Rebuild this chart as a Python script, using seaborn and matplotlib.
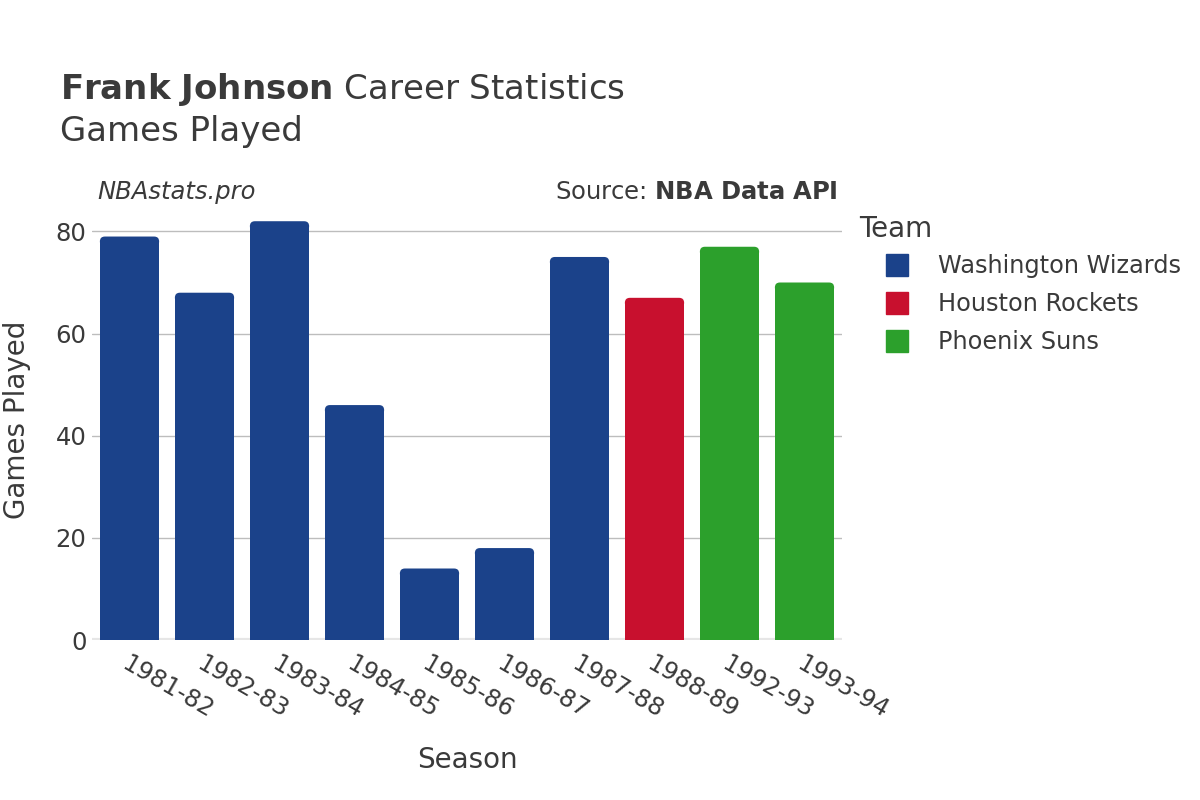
import matplotlib
matplotlib.use('Agg')
import matplotlib.pyplot as plt
import seaborn as sns
import pandas as pd
from matplotlib.patches import FancyBboxPatch, Rectangle
from matplotlib.lines import Line2D

seasons = ['1981-82', '1982-83', '1983-84', '1984-85', '1985-86',
           '1986-87', '1987-88', '1988-89', '1992-93', '1993-94']
games = [79, 68, 82, 46, 14, 18, 75, 67, 77, 70]
teams = ['Washington Wizards'] * 7 + ['Houston Rockets'] + ['Phoenix Suns'] * 2
team_order = ['Washington Wizards', 'Houston Rockets', 'Phoenix Suns']
team_colors = ['#1b428a', '#c8102e', '#2ca02c']
y_ticks = [0, 20, 40, 60, 80]

df = pd.DataFrame({'Season': seasons, 'Games': games, 'Team': teams})

sns.set_theme(style='white')
plt.rcParams['font.family'] = ['DejaVu Sans']
txt = '#3a3a3a'

fig = plt.figure(figsize=(12, 8), dpi=100)
ax = fig.add_axes([92 / 1200, 0.2, 750 / 1200, (640 - 211) / 800])

sns.barplot(data=df, x='Season', y='Games', hue='Team', hue_order=team_order,
            palette=team_colors, dodge=False, width=0.79, saturation=1,
            legend=False, ax=ax, zorder=3)

ax.set_ylim(0, 84)
ax.set_xlim(-0.5, len(seasons) - 0.5)
fig.canvas.draw()

# convert rectangular bars into bars with rounded top corners
bbox = ax.get_window_extent()
px_per_x = bbox.width / (ax.get_xlim()[1] - ax.get_xlim()[0])
px_per_y = bbox.height / (ax.get_ylim()[1] - ax.get_ylim()[0])
r_px = 5
rx = r_px / px_per_x
ry = r_px / px_per_y
aspect = ry / rx
for p in list(ax.patches):
    if not isinstance(p, Rectangle):
        continue
    x, y = p.get_x(), p.get_y()
    w, h = p.get_width(), p.get_height()
    if h <= 0:
        continue
    col = p.get_facecolor()
    p.set_height(h - ry)
    p.set_linewidth(0)
    top = FancyBboxPatch((x, y + h - 2 * ry), w, 2 * ry,
                         boxstyle=f"round,pad=0,rounding_size={rx}",
                         mutation_aspect=aspect, facecolor=col,
                         edgecolor='none', linewidth=0, zorder=3)
    ax.add_patch(top)

for s in ax.spines.values():
    s.set_visible(False)
ax.set_yticks(y_ticks)
ax.yaxis.grid(True, color='#bdbdbd', linewidth=1, zorder=0)
ax.set_axisbelow(True)
ax.axhline(0, color='#e6e6e6', linewidth=3, zorder=2)
ax.tick_params(axis='both', length=0, labelsize=17.5, labelcolor=txt)
ax.tick_params(axis='y', pad=4)
ax.tick_params(axis='x', pad=8)
for lab in ax.get_xticklabels():
    lab.set_rotation(-30)
    lab.set_ha('left')
    lab.set_rotation_mode('anchor')

ax.set_xlabel('Season', fontsize=20, color=txt)
ax.set_ylabel('Games Played', fontsize=20, color=txt)
ax.xaxis.set_label_coords((467 - 92) / 750, -(760 - 640) / 429)
ax.yaxis.set_label_coords(-(92 - 17) / 750, (640 - 420) / 429)
ax.xaxis.label.set_va('center')
ax.yaxis.label.set_va('center')

fig.text(60 / 1200, 1 - 89 / 800, r'$\bf{Frank\ Johnson}$ Career Statistics',
         fontsize=24.5, color=txt, va='center', ha='left')
fig.text(60 / 1200, 1 - 132 / 800, 'Games Played', fontsize=24.5, color=txt,
         va='center', ha='left')
fig.text(97 / 1200, 1 - 192 / 800, 'NBAstats.pro', fontsize=17.5, style='italic',
         color=txt, va='center', ha='left')
fig.text(838 / 1200, 1 - 192 / 800, r'Source: $\bf{NBA\ Data\ API}$', fontsize=17.5,
         color=txt, va='center', ha='right')

handles = [Line2D([0], [0], marker='s', linestyle='none', markersize=16,
                  markerfacecolor=c, markeredgecolor=c) for c in team_colors]
leg = fig.legend(handles, team_order, title='Team', loc='upper left',
                 bbox_to_anchor=(852 / 1200, 1 - 208 / 800), frameon=False,
                 fontsize=17.3, title_fontsize=20, labelspacing=0.58,
                 handlelength=3.17, handletextpad=0.1, borderaxespad=0,
                 borderpad=0.3)
leg._legend_box.align = 'left'
leg._legend_box.sep = 8
for t in leg.get_texts():
    t.set_color(txt)
leg.get_title().set_color(txt)

fig.savefig('out.png', dpi=100)
